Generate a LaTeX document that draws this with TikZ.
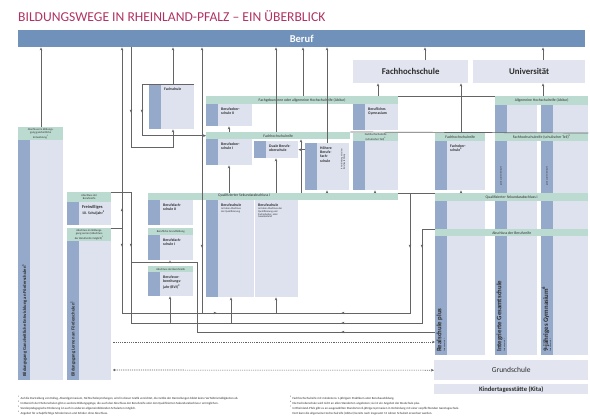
\documentclass[tikz,border=0pt]{standalone}
\usepackage{fontspec}
\setmainfont{Carlito}
\usetikzlibrary{calc, positioning, arrows.meta}

\definecolor{titlered}{RGB}{176,50,98}
\definecolor{berufblue}{RGB}{112,145,186}
\definecolor{bodyblue}{RGB}{221,226,238}
\definecolor{stripblue}{RGB}{149,169,202}
\definecolor{hdrgreen}{RGB}{188,219,208}
\definecolor{uniblue}{RGB}{226,229,240}
\definecolor{linegray}{RGB}{100,100,100}
\definecolor{textgray}{RGB}{45,45,45}

\tikzset{
  bodybox/.style={rectangle, fill=bodyblue, inner sep=0pt, anchor=north west},
  stripbox/.style={rectangle, fill=stripblue, inner sep=0pt, minimum width=12pt, anchor=north west},
  hdr/.style={rectangle, fill=hdrgreen, inner sep=0pt, anchor=north west, align=center, text=textgray, font=\fontsize{3.8}{4.2}\selectfont},
  smallhdr/.style={hdr, font=\fontsize{2.8}{3.1}\selectfont},
  boxtext/.style={anchor=north west, inner sep=0pt, align=left, text=textgray, font=\fontsize{3.8}{4.3}\selectfont\bfseries},
  smalltext/.style={anchor=north west, inner sep=0pt, align=left, text=textgray, font=\fontsize{2.6}{2.9}\selectfont},
  vtext/.style={rotate=90, anchor=west, inner sep=0pt, text=textgray},
  foot/.style={anchor=west, inner sep=0pt, text=textgray, font=\fontsize{3.1}{3.4}\selectfont},
  conn/.style={draw=linegray, line width=0.7pt},
  arr/.style={conn, -{Stealth[length=3pt, width=2.6pt]}},
  dotline/.style={conn, line width=0.6pt, dash pattern=on 1.2pt off 1pt},
  arrowmark/.pic={\fill[linegray] (1.7,0) -- (-1.2,1.3) -- (-1.2,-1.3) -- cycle;}
}

% box with dark strip and text
\newcommand{\schulbox}[6]{%
  \node (#1) [bodybox, minimum width=#4pt, minimum height=#5pt] at (#2,#3) {};
  \node (#1-s) [stripbox, minimum height=#5pt] at (#2,#3) {};
  \node [boxtext] at ($(#1.north west)+(15,3.5)$) {#6};
}

\begin{document}
\begin{tikzpicture}[x=1pt, y=-1pt]
\useasboundingbox (0,0) rectangle (590,416);

% lanes for the connectors
\foreach \lx in {41,122,131,142,170,173,197,202,229,231,276,301,303,327,375,378,410,422,425,461,543}
  \coordinate (x\lx) at (\lx,0);
\foreach \ly in {147,262,313,323,332,342,370}
  \coordinate (y\ly) at (0,\ly);

% title and top row
\node (title) [anchor=west, inner sep=0pt, text=titlered, font=\fontsize{13.6}{15}\selectfont] at (18,16) {BILDUNGSWEGE IN RHEINLAND-PFALZ – EIN ÜBERBLICK};
\node (beruf) [bodybox, fill=berufblue, minimum width=567pt, minimum height=17pt, text=white, font=\fontsize{10.5}{12}\selectfont\bfseries] at (18,30) {Beruf};
\node (fhs) [bodybox, fill=uniblue, minimum width=115pt, minimum height=23pt, text=textgray, font=\fontsize{8.8}{10}\selectfont\bfseries] at (353,60) {Fachhochschule};
\node (uni) [bodybox, fill=uniblue, minimum width=112pt, minimum height=23pt, text=textgray, font=\fontsize{8.8}{10}\selectfont\bfseries] at (473,60) {Universität};

% Foerderschulen
\node (ganzh) [smallhdr, minimum width=45pt, minimum height=13pt] at (18,127) {Abschluss im Bildungs-\\gang ganzheitliche\\Entwicklung\textsuperscript{2}};
\node (ganz) [bodybox, minimum width=45pt, minimum height=240pt] at (18,140) {};
\node (ganz-s) [stripbox, minimum height=240pt] at (18,140) {};
\node [vtext, font=\fontsize{4.6}{5}\selectfont\bfseries] at (24.5,377) {Bildungsgang Ganzheitliche Entwicklung an Förderschulen\textsuperscript{1}};

\node (frh) [smallhdr, minimum width=44pt, minimum height=10pt] at (67,192) {Abschluss der\\Berufsreife};
\schulbox{fr}{67}{202}{44}{23}{\fontsize{4.4}{5}\selectfont Freiwilliges\\10. Schuljahr\textsuperscript{2}}

\node (lernh) [smallhdr, minimum width=44pt, minimum height=13pt] at (67,228) {Abschluss im Bildungs-\\gang Lernen (Abschluss\\der Berufsreife möglich)\textsuperscript{2}};
\node (lern) [bodybox, minimum width=44pt, minimum height=139pt] at (67,241) {};
\node (lern-s) [stripbox, minimum height=139pt] at (67,241) {};
\node [vtext, font=\fontsize{4.6}{5}\selectfont\bfseries] at (73,377) {Bildungsgang Lernen an Förderschulen\textsuperscript{1}};

% berufsbildende Schulen
\schulbox{fs}{149}{84}{45}{45}{Fachschule}
\node (fgh) [hdr, minimum width=192pt, minimum height=8pt] at (206,96) {Fachgebundene oder allgemeine Hochschulreife (Abitur)};
\schulbox{bos2}{206}{104}{46}{22}{Berufsober-\\schule II}
\schulbox{bgy}{353}{104}{45}{26}{Berufliches\\Gymnasium}
\node (fhr) [hdr, minimum width=144pt, minimum height=7pt] at (206,132) {Fachhochschulreife};
\schulbox{bos1}{206}{139}{46}{26}{Berufsober-\\schule I}
\schulbox{dbos}{254}{141}{44}{17}{Duale Berufs-\\oberschule}
\schulbox{hbfs}{305}{143}{44}{47}{Höhere\\Berufs-\\fach-\\schule}
\node [vtext, font=\fontsize{2.2}{2.5}\selectfont, align=left] at (343,170) {in Verbindung mit einer\\Berufsausbildung};
\node (bgyh) [smallhdr, minimum width=45pt, minimum height=8pt] at (353,133) {Fachhochschulreife\\(schulischer Teil)\textsuperscript{5}};
\node (bgyu) [bodybox, minimum width=45pt, minimum height=49pt] at (353,141) {};
\node (bgyu-s) [stripbox, minimum height=49pt] at (353,141) {};

\node (qsl) [hdr, minimum width=250pt, minimum height=7pt] at (148,193) {};
\node [hdr, fill=none] at (218,193.5) {Qualifizierter Sekundarabschluss I};
\schulbox{bfs2}{148}{200}{45}{25}{Berufsfach-\\schule II}
\node (bfs1h) [smallhdr, minimum width=45pt, minimum height=7pt] at (148,228) {Berufliche Grundbildung};
\schulbox{bfs1}{148}{235}{45}{25}{Berufsfach-\\schule I}
\node (bvjh) [smallhdr, minimum width=45pt, minimum height=6pt] at (148,266) {Abschluss der Berufsreife};
\schulbox{bvj}{148}{272}{45}{24}{Berufsvor-\\bereitungs-\\jahr (BVJ)\textsuperscript{3}}

\node (bs) [bodybox, minimum width=92pt, minimum height=97pt] at (206,200) {};
\node (bs-s) [stripbox, minimum height=97pt] at (206,200) {};
\draw [white, line width=0.6pt] (bs.north west) ++(48,0) -- ++(0,97);
\node (bsa) [boxtext] at (221,203.5) {Berufsschule};
\node [smalltext, below=0.6pt of bsa.south west, anchor=north west] {mit dem Abschluss\\der Qualifizierung};
\node (bsb) [boxtext] at (258,203.5) {Berufsschule};
\node [smalltext, below=0.6pt of bsb.south west, anchor=north west] {mit dem Abschluss der\\Qualifizierung und\\Facharbeiter- oder\\Gesellenbrief};

% allgemeinbildende Schulen rechts
\node (fosh) [hdr, minimum width=50pt, minimum height=8pt] at (435,133) {Fachhochschulreife};
\schulbox{fos}{435}{141}{50}{49}{Fachober-\\schule\textsuperscript{4}}
\node (ahr) [hdr, minimum width=93pt, minimum height=9pt] at (495,96) {Allgemeine Hochschulreife (Abitur)};
\node (fhrs) [hdr, minimum width=93pt, minimum height=8pt] at (495,133) {Fachhochschulreife (schulischer Teil)\textsuperscript{5}};
\node (qsr) [hdr, minimum width=153pt, minimum height=8pt] at (435,193) {Qualifizierter Sekundarabschluss I};
\node (abr) [hdr, minimum width=153pt, minimum height=7pt] at (435,229) {Abschluss der Berufsreife};
\foreach \col/\cx/\cw in {igs/495/42, gym/541/47} {
  \node (\col1) [bodybox, minimum width=\cw pt, minimum height=28pt] at (\cx,105) {};
  \node (\col1-s) [stripbox, minimum height=28pt] at (\cx,105) {};
  \node (\col2) [bodybox, minimum width=\cw pt, minimum height=52pt] at (\cx,141) {};
  \node (\col2-s) [stripbox, minimum height=52pt] at (\cx,141) {};
  \node (\col3) [bodybox, minimum width=\cw pt, minimum height=28pt] at (\cx,201) {};
  \node (\col3-s) [stripbox, minimum height=28pt] at (\cx,201) {};
  \node (\col4) [bodybox, minimum width=\cw pt, minimum height=119pt] at (\cx,236) {};
  \node (\col4-s) [stripbox, minimum height=119pt] at (\cx,236) {};
  \node [vtext, font=\fontsize{2.2}{2.5}\selectfont] at (\cx+6,186) {gymnasiale Oberstufe};
}
\node (rs1) [bodybox, minimum width=50pt, minimum height=28pt] at (435,201) {};
\node (rs1-s) [stripbox, minimum height=28pt] at (435,201) {};
\node (rs2) [bodybox, minimum width=50pt, minimum height=119pt] at (435,236) {};
\node (rs2-s) [stripbox, minimum height=119pt] at (435,236) {};
\node [vtext, font=\fontsize{6.8}{7}\selectfont\bfseries] at (439.5,352) {Realschule plus};
\node [vtext, font=\fontsize{6.8}{7}\selectfont\bfseries] at (499.5,352) {Integrierte Gesamtschule};
\node [vtext, font=\fontsize{6.8}{7}\selectfont\bfseries] at (545.5,352) {9-jähriges Gymnasium\textsuperscript{6}};
\foreach \tx in {444.5,504.5,550.5}
  \node [vtext, font=\fontsize{2}{2.3}\selectfont] at (\tx,352) {Sekundarstufe I};

\node (gs) [bodybox, fill=uniblue, minimum width=154pt, minimum height=20pt, text=textgray, font=\fontsize{7.5}{9}\selectfont] at (434,360) {Grundschule};
\node (kita) [bodybox, fill=uniblue, minimum width=154pt, minimum height=10pt, text=textgray, font=\fontsize{6.6}{8}\selectfont\bfseries] at (434,384) {Kindertagesstätte (Kita)};

% connectors into Beruf and Hochschulen
\draw [arr] (x41 |- ganzh.north) -- (x41 |- beruf.south);
\draw [arr] (lernh.north east) -| (x122 |- beruf.south);
\draw [arr] (x131 |- beruf.south) |- (x173 |- y147) -- (x173 |- fs.south);
\draw [arr] (fs.north east) -- (x142 |- fs.north) |- (fhr.west);
\draw [arr] (x173 |- fs.north) -- (x173 |- beruf.south);
\draw [arr] (x202 |- y313) -- (x202 |- beruf.south);
\draw [arr] (x276 |- fhr.north) -- (x276 |- beruf.south);
\draw [arr] (x303 |- fgh.north) -- (x303 |- beruf.south);
\draw [arr] (x327 |- hbfs.north) -- (x327 |- beruf.south);
\draw [arr] (x425 |- fhs.north) -- (x425 |- beruf.south);
\draw [arr] (x543 |- uni.north) -- (x543 |- beruf.south);
\draw [arr] (x378 |- fgh.north) -- (x378 |- fhs.south);
\draw [arr] (x543 |- ahr.north) -- (x543 |- uni.south);
\draw [arr] (x461 |- fosh.north) -- (x461 |- fhs.south);
\draw [conn] (fgh.north east) -- (ahr.north west);
\draw [conn] (fhr.north east) -- (fhrs.north east);
\draw [conn] (qsl.north east) -- (qsr.north west);

% connectors between the schools
\draw [arr] (x229 |- fhr.north) -- (x229 |- bos2.south);
\draw [arr] (x229 |- qsl.north) -- (x229 |- bos1.south);
\draw [arr] (x276 |- qsl.north) -- (x276 |- dbos.south);
\draw [arr] (x301 |- qsl.north) -- (x301 |- fhr.south);
\draw [arr] (x327 |- qsl.north) -- (x327 |- hbfs.south);
\draw [arr] (x375 |- qsl.north) -- (x375 |- bgyu.south);
\draw [arr] (x461 |- qsr.north) -- (x461 |- fos.south);
\draw [arr] (hbfs.west |- dbos.east) -- (dbos.east);

% lines at the bottom
\draw [conn] (x122 |- lernh.north) |- (x410 |- y313) |- (qsr.north west);
\draw [conn] (frh.north east) -| (x131 |- y323) -- (x422 |- y323) |- (abr.north west);
\draw [conn] (x131 |- y262) -- (x197 |- y262) -- (x197 |- y332) -- (rs2.west |- y332);
\draw [arr] (x170 |- y262) -- (x170 |- bfs1.south);
\draw [arr] (x170 |- y323) -- (x170 |- bvj.south);
\draw [arr] (x231 |- y323) -- (x231 |- bs.south);
\draw [arr] (x276 |- y313) -- (x276 |- bs.south);
\foreach \mx/\my/\ma in {122/210/90, 122/245/270, 131/245/270, 131/111/270, 142/111/270, 202/246/270,
    215/313/0, 343/313/180, 343/323/180, 343/332/180, 410/246/270, 422/246/270}
  \pic [rotate=\ma] at (\mx,\my) {arrowmark};

% dotted lines
\draw [dotline, -{Stealth[length=3pt, width=2.6pt]}] ($(lern.east |- y342)+(2,0)$) -- (rs2.west |- y342);
\fill [linegray] ($(lern.east |- y370)+(3,0)$) circle (1.2pt);
\draw [dotline, -{Stealth[length=3pt, width=2.6pt]}] ($(lern.east |- y370)+(3,0)$) -- (gs.west);

% footnotes
\node [foot] at (18,398) {\textsuperscript{1} Auf die Darstellung von Kolleg, Abendgymnasium, Nichtschülerprüfungen, wird in dieser Grafik verzichtet, die Größe der Darstellungen bildet keine Verhältnismäßigkeiten ab.};
\node [foot] at (18,403) {\textsuperscript{2} Im Bereich der Förderschulen gibt es weitere Bildungsgänge, die auch den Abschluss der Berufsreife oder den Qualifizierten Sekundarabschluss I ermöglichen.};
\node [foot] at (18,408) {\textsuperscript{3} Sonderpädagogische Förderung ist auch in anderen allgemeinbildenden Schularten möglich.};
\node [foot] at (18,413) {\textsuperscript{4} Angebot für schulpflichtige Schülerinnen und Schüler ohne Abschluss.};
\node [foot] at (290,398) {\textsuperscript{5} Fachhochschulreife mit mindestens 1-jährigem Praktikum oder Berufsausbildung.};
\node [foot] at (290,403) {\textsuperscript{6} Die Fachoberschule wird nicht an allen Standorten angeboten; sie ist ein Angebot der Realschule plus.};
\node [foot] at (290,408) {\textsuperscript{7} In Rheinland-Pfalz gibt es an ausgewählten Standorten 8-jährige Gymnasien in Verbindung mit einer verpflichtenden Ganztagsschule.};
\node [foot] at (290,413) {\phantom{\textsuperscript{7}} Dort kann die allgemeine Hochschulreife (Abitur) bereits nach insgesamt 12 Jahren Schulzeit erworben werden.};
\end{tikzpicture}
\end{document}
